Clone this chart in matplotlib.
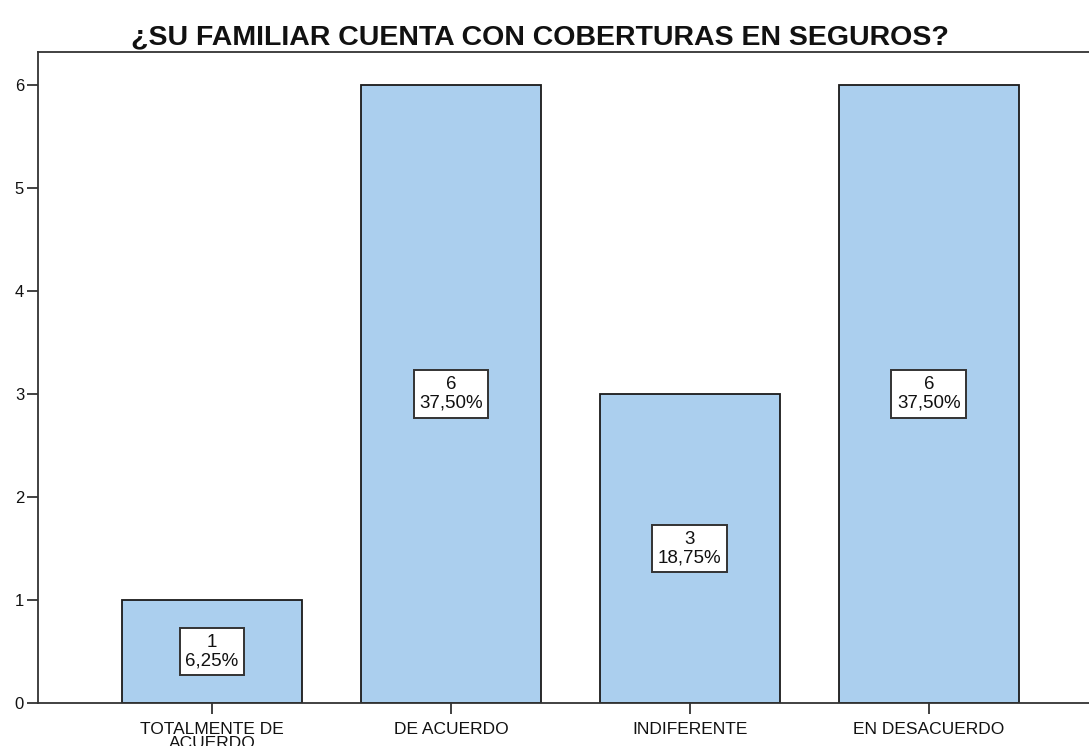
import matplotlib
matplotlib.use("Agg")
import matplotlib.pyplot as plt

# Chart data
categories = ["TOTALMENTE DE\nACUERDO", "DE ACUERDO", "INDIFERENTE", "EN DESACUERDO"]
counts = [1, 6, 3, 6]
percents = ["6,25%", "37,50%", "18,75%", "37,50%"]
title = "¿SU FAMILIAR CUENTA CON COBERTURAS EN SEGUROS?"

plt.rcParams['font.family'] = ['Liberation Sans', 'DejaVu Sans']

fig = plt.figure(figsize=(10.89, 7.46), dpi=100)
ax = fig.add_axes([0.0349, 0.0576, 0.9651, 0.8727])

x = list(range(len(categories)))
ax.bar(x, counts, width=0.75, color="#ABCFEE", edgecolor="#1a1a1a", linewidth=1.3, zorder=2)

# count + percent label box in the middle of each bar
for xi, c, p in zip(x, counts, percents):
    ax.text(xi, c / 2, f"{c}\n{p}", ha="center", va="center", fontsize=13.5,
            linespacing=1.15, color="#111111",
            bbox=dict(boxstyle="square,pad=0.3", facecolor="white", edgecolor="#333333", linewidth=1.4),
            zorder=3)

ax.set_xlim(-0.728, 3.67)
ax.set_ylim(0, 6.32)
ax.set_yticks(range(0, 7))
ax.set_xticks(x)
ax.set_xticklabels(categories, fontsize=12.5, linespacing=0.9)
ax.tick_params(axis="both", direction="out", length=8, width=1.3, colors="#333333", labelcolor="#111111")
ax.tick_params(axis="y", labelsize=12, pad=2)
ax.tick_params(axis="x", pad=6)

for side in ["left", "top", "bottom"]:
    ax.spines[side].set_color("#333333")
    ax.spines[side].set_linewidth(1.3)
ax.spines["right"].set_visible(False)

fig.text(0.496, 0.941, title, ha="center", va="baseline", fontsize=20.5, fontweight="bold", color="#111111")

fig.savefig("out.png", dpi=100)
